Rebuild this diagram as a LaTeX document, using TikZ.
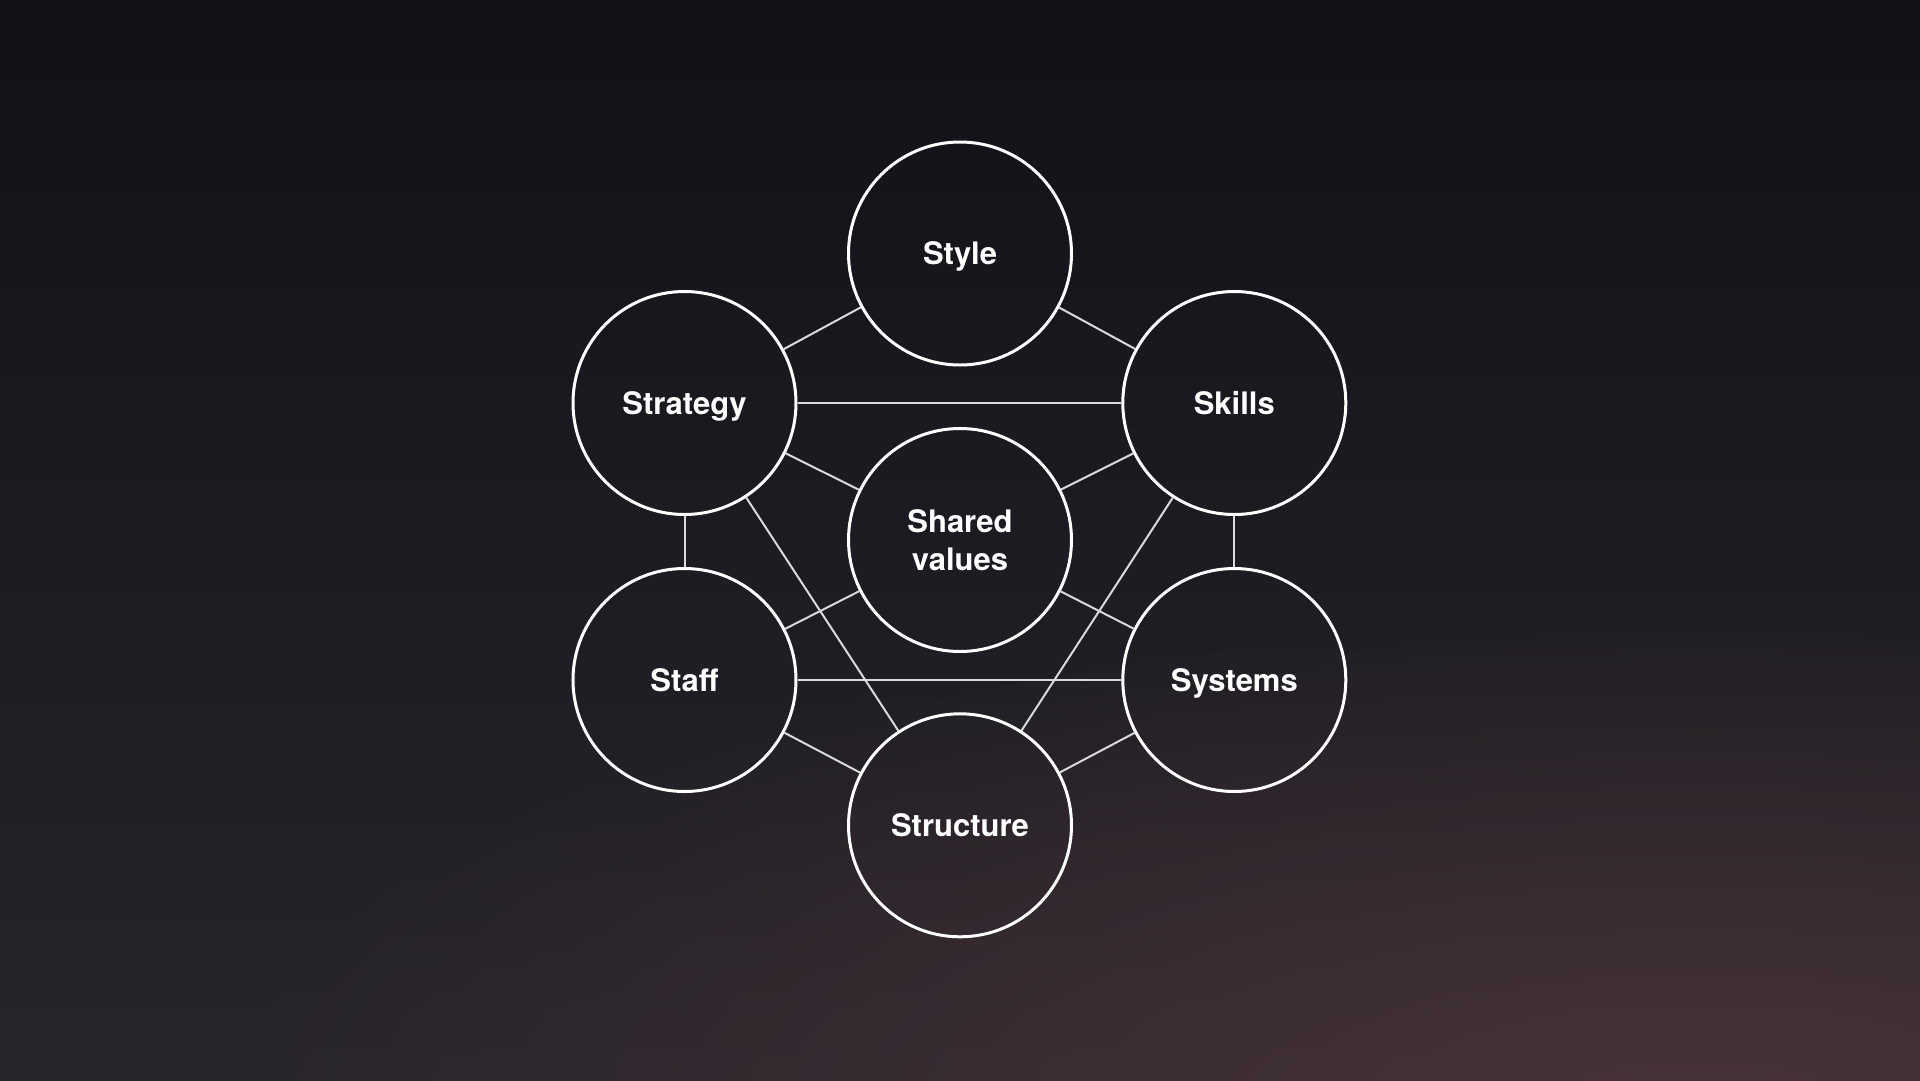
\documentclass[tikz,border=0pt]{standalone}
\usepackage{fontspec}
\setmainfont{TeX Gyre Heros}
\usetikzlibrary{fadings}
\definecolor{bgtop}{HTML}{101217}
\definecolor{bgbot}{HTML}{28252C}
\definecolor{warm}{HTML}{4C353A}
\definecolor{linegray}{HTML}{DADADA}
\tikzfading[name=glowfade, inner color=transparent!0, outer color=transparent!100]
\tikzset{
  sbox/.style={circle, draw=white, line width=3pt, minimum size=223pt, inner sep=0pt,
    text=white, align=center, font=\fontsize{31}{38.5}\selectfont\bfseries},
  oneline/.style={text height=22.3pt, text depth=0pt},
  link/.style={draw=linegray, line width=2pt}
}
\begin{document}
\begin{tikzpicture}[x=1pt,y=-1pt]
\useasboundingbox (0,0) rectangle (1920,1080);
\shade[top color=bgtop, bottom color=bgbot] (0,0) rectangle (1920,1080);
\begin{scope}
  \clip (0,0) rectangle (1920,1080);
  \fill[warm, path fading=glowfade, opacity=0.9] (1700,1120) ellipse[x radius=1500pt, y radius=520pt];
\end{scope}

\node[sbox, oneline] (style) at (960,253.5) {Style};
\node[sbox, oneline] (strategy) at (684.5,403) {Strategy};
\node[sbox, oneline] (skills) at (1234.3,403) {Skills};
\node[sbox] (shared) at (960,540) {Shared\\values};
\node[sbox, oneline] (staff) at (684.5,680) {Staff};
\node[sbox, oneline] (systems) at (1234.3,680) {Systems};
\node[sbox, oneline] (structure) at (960,825.3) {Structure};

\draw[link] (style) -- (strategy);
\draw[link] (style) -- (skills);
\draw[link] (strategy) -- (skills);
\draw[link] (strategy) -- (shared);
\draw[link] (skills) -- (shared);
\draw[link] (strategy) -- (staff);
\draw[link] (skills) -- (systems);
\draw[link] (strategy) -- (structure);
\draw[link] (skills) -- (structure);
\draw[link] (staff) -- (shared);
\draw[link] (systems) -- (shared);
\draw[link] (staff) -- (systems);
\draw[link] (staff) -- (structure);
\draw[link] (systems) -- (structure);
\end{tikzpicture}
\end{document}
